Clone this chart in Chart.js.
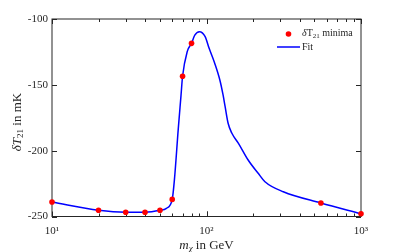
<!DOCTYPE html>
<html>
<head>
<meta charset="utf-8">
<script src="https://cdn.jsdelivr.net/npm/chart.js@4.4.1/dist/chart.umd.min.js"></script>
<style>
  html, body { margin: 0; padding: 0; background: #fff; }
  #wrap { width: 399px; height: 252px; position: relative; }
</style>
</head>
<body>
<div id="wrap"><canvas id="chart" width="399" height="252"></canvas></div>
<script>
// simulated delta T21 minima (mK) vs dark matter mass (GeV)
const massGeV = [10, 20, 30, 40, 50, 60, 70, 80, 550, 1000];
const minimaMK = [-239, -245.3, -246.8, -246.8, -245.3, -237, -143.5, -118.5, -239.7, -247.9];

// fit curve
const fitMassGeV = [10, 20, 30, 40, 50, 55, 60, 62, 65.6, 68.4, 70, 75, 80, 84, 90, 98, 104, 113, 122, 128, 132, 138, 146, 161, 186, 216, 239, 314, 550, 1000];
const fitMK = [-239, -245.3, -246.8, -246.8, -245.3, -243.8, -237, -222, -184, -158, -143.5, -124.8, -118.5, -112.2, -109.6, -113.4, -122.3, -133.6, -146.3, -157.7, -166.6, -179.2, -186.8, -194.4, -207.1, -217.2, -223.6, -231.2, -239.7, -247.9];

const yTicks = [-250, -200, -150, -100];
const xMajor = [10, 100, 1000];
const xTickLabels = ['10\u00b9', '10\u00b2', '10\u00b3'];

const SERIF = '"Liberation Serif", "DejaVu Serif", serif';
const INK = '#262626';

function drawRich(ctx, pieces, x, y, align) {
    let total = 0;
    pieces.forEach((p) => {
        ctx.font = p.font;
        p.w = ctx.measureText(p.text).width;
        total += p.w;
    });
    let cx = align === 'center' ? x - total / 2 : x;
    pieces.forEach((p) => {
        ctx.font = p.font;
        ctx.fillText(p.text, cx, y + (p.dy || 0));
        cx += p.w;
    });
}

const framePlugin = {
    id: 'frame',
    beforeDatasetsDraw(chart) {
        const { ctx, chartArea: a, scales } = chart;
        ctx.save();
        ctx.strokeStyle = INK;
        ctx.lineWidth = 1;
        ctx.strokeRect(a.left, a.top, a.right - a.left, a.bottom - a.top);
        ctx.beginPath();
        // x ticks, major and minor, inward on bottom and top
        for (let dec = 10; dec < 1000; dec *= 10) {
            for (let m = 1; m <= 10; m++) {
                const px = Math.round(scales.x.getPixelForValue(dec * m)) + 0.5;
                const len = (m === 1 || m === 10) ? 5 : 3;
                ctx.moveTo(px, a.bottom);
                ctx.lineTo(px, a.bottom - len);
                ctx.moveTo(px, a.top);
                ctx.lineTo(px, a.top + len);
            }
        }
        yTicks.forEach((v) => {
            const py = Math.round(scales.y.getPixelForValue(v)) + 0.5;
            ctx.moveTo(a.left, py);
            ctx.lineTo(a.left + 5, py);
            ctx.moveTo(a.right, py);
            ctx.lineTo(a.right - 5, py);
        });
        ctx.stroke();
        ctx.restore();
    },
    afterDraw(chart) {
        const { ctx, chartArea: a } = chart;
        ctx.save();
        ctx.fillStyle = INK;
        ctx.textBaseline = 'middle';

        // x title
        drawRich(ctx, [
            { text: 'm', font: 'italic 13px ' + SERIF },
            { text: '\u03c7', font: 'italic 9px ' + SERIF, dy: 3 },
            { text: ' in GeV', font: '13px ' + SERIF },
        ], (a.left + a.right) / 2, 246, 'center');

        // y title
        ctx.translate(18, 122);
        ctx.rotate(-Math.PI / 2);
        drawRich(ctx, [
            { text: '\u03b4T', font: 'italic 13px ' + SERIF },
            { text: '21', font: '9px ' + SERIF, dy: 3 },
            { text: ' in mK', font: '13px ' + SERIF },
        ], 0, 0, 'center');
        ctx.setTransform(1, 0, 0, 1, 0, 0);

        // legend
        ctx.fillStyle = '#ff0000';
        ctx.beginPath();
        ctx.arc(288.5, 34, 2.8, 0, Math.PI * 2);
        ctx.fill();
        ctx.strokeStyle = '#0000ff';
        ctx.lineWidth = 1.5;
        ctx.beginPath();
        ctx.moveTo(277, 47);
        ctx.lineTo(300, 47);
        ctx.stroke();
        ctx.fillStyle = INK;
        drawRich(ctx, [
            { text: '\u03b4', font: 'italic 10px ' + SERIF },
            { text: 'T', font: '10px ' + SERIF },
            { text: '21', font: '7px ' + SERIF, dy: 3 },
            { text: ' minima', font: '10px ' + SERIF },
        ], 302, 33, 'left');
        drawRich(ctx, [{ text: 'Fit', font: '10px ' + SERIF }], 302, 47, 'left');
        ctx.restore();
    },
};

const ctx = document.getElementById('chart').getContext('2d');
new Chart(ctx, {
    type: 'scatter',
    data: {
        datasets: [{
            label: 'minima',
            data: massGeV.map((m, i) => ({ x: m, y: minimaMK[i] })),
            backgroundColor: '#ff0000',
            borderColor: '#ff0000',
            pointRadius: 2.8,
            pointBorderWidth: 0,
            showLine: false,
            clip: false,
            order: 0,
        }, {
            label: 'Fit',
            data: fitMassGeV.map((m, i) => ({ x: m, y: fitMK[i] })),
            borderColor: '#0000ff',
            borderWidth: 1.5,
            pointRadius: 0,
            showLine: true,
            cubicInterpolationMode: 'monotone',
            clip: false,
            order: 1,
        }],
    },
    options: {
        responsive: false,
        animation: false,
        events: [],
        layout: { padding: { top: 19, right: 38, left: 0, bottom: 0 } },
        plugins: {
            legend: { display: false },
            tooltip: { enabled: false },
        },
        scales: {
            x: {
                type: 'logarithmic',
                min: 10,
                max: 1000,
                grid: { display: false, drawTicks: false },
                border: { display: false },
                afterBuildTicks: (scale) => {
                    scale.ticks = xMajor.map((v) => ({ value: v }));
                },
                afterFit: (scale) => { scale.height = 35.5; },
                ticks: {
                    color: INK,
                    padding: 8,
                    maxRotation: 0,
                    autoSkip: false,
                    font: { family: SERIF, size: 11 },
                    callback: (value) => xTickLabels[xMajor.indexOf(value)] || '',
                },
            },
            y: {
                min: -250,
                max: -100,
                grid: { display: false, drawTicks: false },
                border: { display: false },
                afterBuildTicks: (scale) => {
                    scale.ticks = yTicks.map((v) => ({ value: v }));
                },
                afterFit: (scale) => { scale.width = 52; },
                ticks: {
                    color: INK,
                    padding: 4,
                    font: { family: SERIF, size: 11 },
                },
            },
        },
    },
    plugins: [framePlugin],
});
</script>
</body>
</html>
